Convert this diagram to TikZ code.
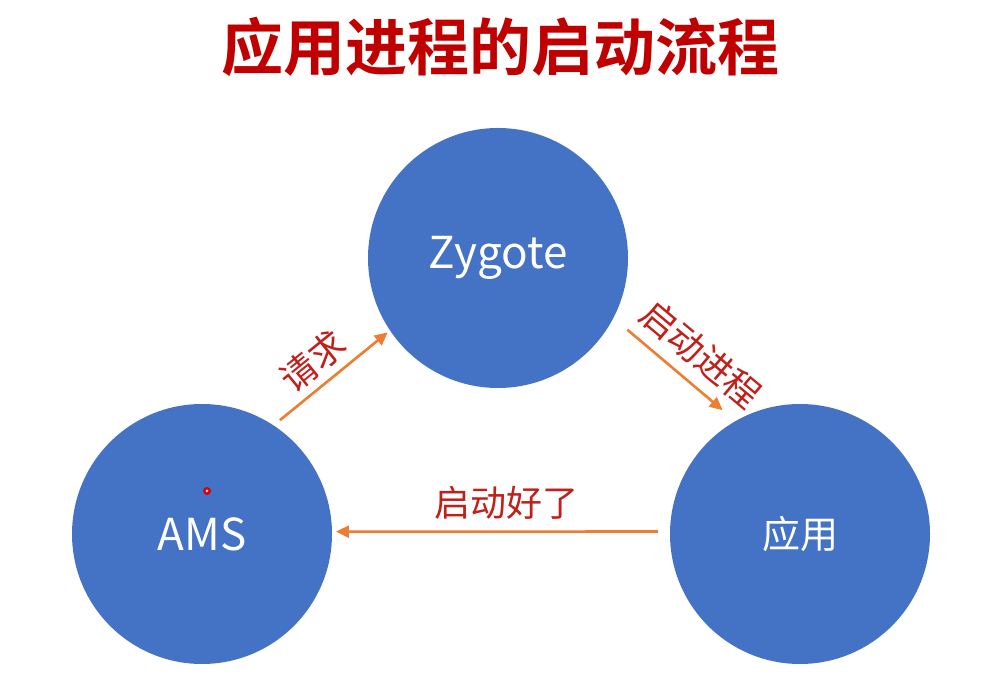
\documentclass[tikz,border=0pt]{standalone}
\usepackage{fontspec}
\setmainfont{Noto Sans CJK SC}[BoldFont={Noto Sans CJK SC Bold}]
\usetikzlibrary{arrows.meta,calc}
\definecolor{cblue}{HTML}{4472C4}
\definecolor{corange}{HTML}{ED7D31}
\definecolor{ctitle}{HTML}{C00000}
\definecolor{clabel}{HTML}{C0201A}
\tikzset{
  proc/.style={circle,fill=cblue,minimum size=260pt,inner sep=0pt,text=white,font=\fontsize{44}{52}\selectfont},
  arr/.style={draw=corange,line width=2.6pt,-{Triangle[length=13pt,width=12pt]}},
  lbl/.style={text=clabel,font=\fontsize{36}{42}\selectfont,inner sep=0pt},
}
\begin{document}
\begin{tikzpicture}[x=1pt,y=1pt]
\useasboundingbox (0,0) rectangle (998,674);
\node[text=ctitle,font=\fontsize{62}{72}\selectfont\bfseries] (title) at (500,627) {应用进程的启动流程};
\node[proc] (zyg) at (498,416) {Zygote};
\node[proc] (ams) at (202,140) {AMS};
\node[proc,font=\fontsize{38}{44}\selectfont] (app) at (800,140) {应用};
\draw[arr] ($(ams.center)+(55.6:138pt)$) -- ($(zyg.center)+(214:133pt)$);
\draw[arr] ($(zyg.center)+(-29:148pt)$) -- ($(app.center)+(122:146pt)$);
\draw[arr] ($(app.center)+(179:142pt)$) -- ($(ams.center)+(1:134pt)$);
\node[lbl,rotate=39] (l1) at (313,313) {请求};
\node[lbl,rotate=-40] (l2) at (701,320) {启动进程};
\node[lbl] (l3) at (506,171) {启动好了};
\fill[red!85!black] (207,183) circle (4pt);
\fill[red!20] (207,183) circle (1.5pt);
\end{tikzpicture}
\end{document}
